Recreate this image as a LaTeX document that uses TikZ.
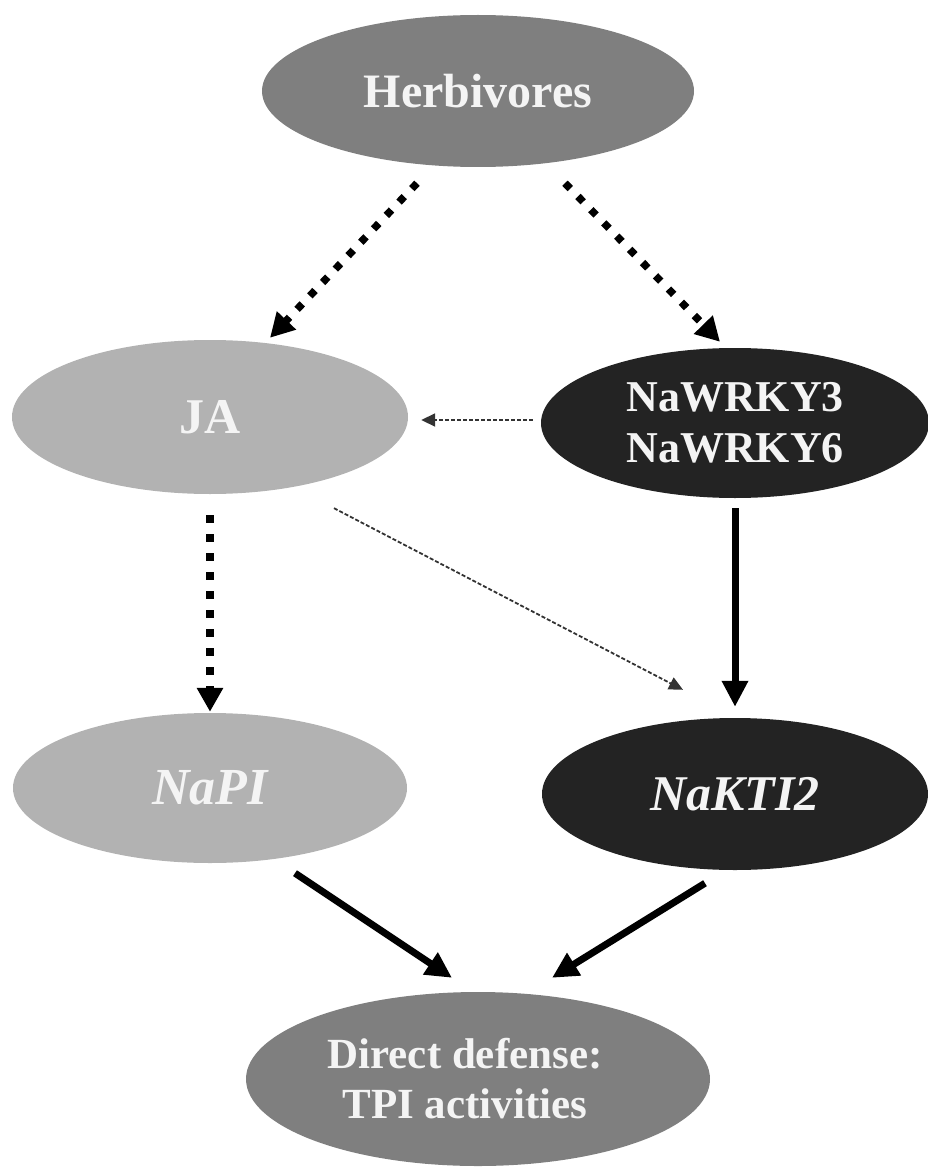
\documentclass[tikz,border=0pt]{standalone}
\usepackage{fontspec}
\setmainfont{Liberation Serif}
\usetikzlibrary{shapes.geometric,arrows.meta}
\definecolor{midgray}{HTML}{7F7F7F}
\definecolor{palegray}{HTML}{B2B2B2}
\definecolor{darkfill}{HTML}{232323}
\definecolor{txtwhite}{HTML}{F4F4F4}
\newcommand{\fsz}[2]{\fontsize{#1}{#2}\selectfont\bfseries}
\begin{document}
\begin{tikzpicture}[x=1pt,y=-1pt,
  ell/.style={ellipse, inner sep=0pt, draw=none, text=txtwhite, align=center},
  dotarrow/.style={line width=7.5pt, dash pattern=on 7.5pt off 11pt,
    -{Triangle[length=24pt,width=25pt]}},
  thindash/.style={line width=1.8pt, draw=black!80, dash pattern=on 4pt off 2pt,
    -{Triangle[length=14pt,width=13pt]}},
  solidarrow/.style={line width=7pt,
    -{Triangle[length=26pt,width=25pt]}}]
\useasboundingbox (0,0) rectangle (928,1169);

% nodes
\node[ell, fill=midgray, minimum width=432pt, minimum height=152pt, font=\fsz{48}{55}]
  (herb) at (478,91) {Herbivores};
\node[ell, fill=palegray, minimum width=396pt, minimum height=154pt, font=\fsz{50}{56}]
  (ja) at (210,417) {JA};
\node[ell, fill=darkfill, minimum width=388pt, minimum height=150pt, font=\fsz{44}{51}]
  (wrky) at (735,423) {NaWRKY3\\NaWRKY6};
\node[ell, fill=palegray, minimum width=394pt, minimum height=150pt, font=\fsz{52}{58}\itshape]
  (napi) at (210,788) {NaPI};
\node[ell, fill=darkfill, minimum width=386pt, minimum height=152pt, font=\fsz{50}{56}\itshape]
  (nakti) at (735,794) {NaKTI2};
\node[ell, fill=midgray, minimum width=464pt, minimum height=174pt, font=\fsz{43}{50}]
  (dd) at (478,1079) {\hspace*{-26pt}Direct defense:\\\hspace*{-26pt}TPI activities};

% connectors
\draw[dotarrow] ([shift={(-61,16)}]herb.south) -- ([shift={(60,-2)}]ja.north);
\draw[dotarrow] ([shift={(87,16)}]herb.south) -- ([shift={(-15,-6)}]wrky.north);
\draw[thindash] ([shift={(-8,-3)}]wrky.west) -- ([shift={(13,3)}]ja.east);
\draw[dotarrow, dash pattern=on 8pt off 11pt] ([shift={(0,21)}]ja.south) -- ([shift={(0,-1)}]napi.north);
\draw[solidarrow] ([shift={(0,10)}]wrky.south) -- ([shift={(0,-11)}]nakti.north);
\draw[thindash] ([shift={(124,14)}]ja.south) -- ([shift={(-52,-28)}]nakti.north);
\draw[solidarrow] ([shift={(85,10)}]napi.south) -- ([shift={(-26,-14)}]dd.north);
\draw[solidarrow] ([shift={(-30,13)}]nakti.south) -- ([shift={(74,-14)}]dd.north);
\end{tikzpicture}
\end{document}
